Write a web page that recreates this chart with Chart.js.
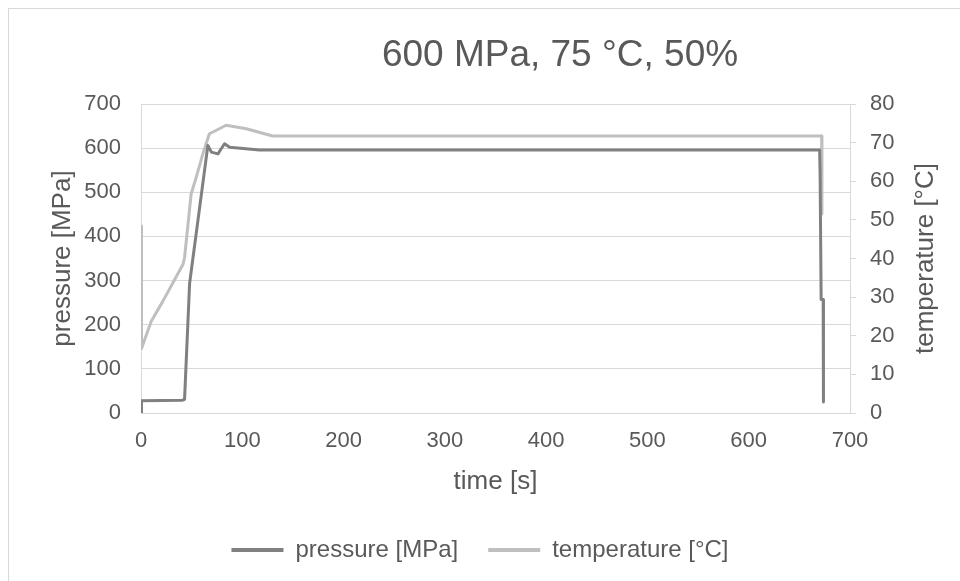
<!DOCTYPE html>
<html>
<head>
<meta charset="utf-8">
<script src="https://cdn.jsdelivr.net/npm/chart.js@4.4.1/dist/chart.umd.min.js"></script>
<style>
    body { margin: 0; background: #fff; }
    #wrap { position: relative; width: 960px; height: 581px; overflow: hidden; }
    #frame { position: absolute; left: 8px; top: 8px; width: 1000px; height: 1000px; border: 1px solid #d9d9d9; }
    #myChart { position: absolute; left: 0; top: 0; }
</style>
</head>
<body>
<div id="wrap">
    <div id="frame"></div>
    <canvas id="myChart" width="960" height="581"></canvas>
</div>
<script>
    const chartTitle = "600 MPa, 75 °C, 50%";
    const rightTitle = "temperature [°C]";

    // pressure log
    const pressureTime = [0, 0.5, 41, 43, 48, 66, 69.5, 76, 79, 82.5, 87.5, 117, 670, 670.5, 671.5, 673.5, 673.8];
    const pressureValues = [0, 28, 29, 31, 294, 606, 591, 587, 598, 610, 602, 596, 596, 540, 257, 257, 25];

    // temperature log
    const tempTime = [0, 0.5, 10, 21.5, 41.5, 43, 49.5, 54.5, 61, 67.5, 74.5, 84, 104, 130, 672, 672.3];
    const tempValues = [48.4, 16.7, 23.7, 28.9, 38.5, 40.2, 56.7, 61, 67, 72.3, 73.2, 74.5, 73.6, 71.7, 71.7, 51.5];

    const xTicks = [0, 100, 200, 300, 400, 500, 600, 700];

    const font = '"Liberation Sans", Arial, sans-serif';
    const textColor = "#595959";

    function toPoints(xs, ys) {
        let pts = [];
        for (let i = 0; i < xs.length; i++) {
            pts.push({ x: xs[i], y: ys[i] });
        }
        return pts;
    }

    // chart title + right axis title (reads bottom to top, like the left one)
    const titlePlugin = {
        id: 'chartTitle',
        afterDraw(chart) {
            let ctx = chart.ctx;
            let area = chart.chartArea;
            ctx.save();
            ctx.font = '37px ' + font;
            ctx.fillStyle = textColor;
            ctx.textAlign = 'center';
            ctx.textBaseline = 'alphabetic';
            ctx.fillText(chartTitle, 560, 66);

            ctx.font = '26px ' + font;
            ctx.textBaseline = 'middle';
            ctx.translate(926, (area.top + area.bottom) / 2);
            ctx.rotate(-Math.PI / 2);
            ctx.fillText(rightTitle, 0, 0);
            ctx.restore();
        }
    };

    new Chart("myChart", {
        type: "line",
        data: {
            datasets: [{
                label: "pressure [MPa]",
                data: toPoints(pressureTime, pressureValues),
                borderColor: "#808080",
                backgroundColor: "#808080",
                borderWidth: 3,
                yAxisID: "y"
            }, {
                label: "temperature [°C]",
                data: toPoints(tempTime, tempValues),
                borderColor: "#bfbfbf",
                backgroundColor: "#bfbfbf",
                borderWidth: 3,
                yAxisID: "y2"
            }]
        },
        options: {
            responsive: false,
            animation: false,
            devicePixelRatio: 1,
            layout: { padding: { top: 104, left: 0, right: 0, bottom: 9 } },
            elements: {
                point: { radius: 0 },
                line: { tension: 0, borderJoinStyle: 'round' }
            },
            plugins: {
                legend: {
                    position: 'bottom',
                    labels: {
                        font: { family: font, size: 24 },
                        color: textColor,
                        boxWidth: 52,
                        boxHeight: 4,
                        padding: 30,
                        generateLabels: function (chart) {
                            return chart.data.datasets.map(function (ds, i) {
                                return {
                                    text: ds.label,
                                    fillStyle: ds.borderColor,
                                    strokeStyle: ds.borderColor,
                                    lineWidth: 0,
                                    hidden: false,
                                    datasetIndex: i,
                                    fontColor: textColor
                                };
                            });
                        }
                    }
                },
                tooltip: { enabled: false }
            },
            scales: {
                x: {
                    type: 'linear',
                    min: 0,
                    max: 700,
                    afterBuildTicks: function (axis) {
                        axis.ticks = xTicks.map(v => ({ value: v }));
                    },
                    afterFit: function (axis) { axis.height = 95; },
                    grid: { display: false },
                    border: { display: true, color: '#d9d9d9', width: 1 },
                    ticks: { font: { family: font, size: 22 }, color: textColor, padding: 7, maxRotation: 0 },
                    title: {
                        display: true,
                        text: 'time [s]',
                        font: { family: font, size: 26 },
                        color: textColor,
                        padding: { top: 0, bottom: 11 }
                    }
                },
                y: {
                    position: 'left',
                    min: 0,
                    max: 700,
                    afterFit: function (axis) { axis.width = 141; },
                    grid: { color: '#d9d9d9', drawTicks: false },
                    border: { display: true, color: '#d9d9d9' },
                    ticks: { stepSize: 100, font: { family: font, size: 22 }, color: textColor, padding: 20 },
                    title: {
                        display: true,
                        text: 'pressure [MPa]',
                        font: { family: font, size: 26 },
                        color: textColor,
                        padding: { top: 47, bottom: 0 }
                    }
                },
                y2: {
                    position: 'right',
                    min: 0,
                    max: 80,
                    afterFit: function (axis) { axis.width = 110; },
                    grid: { drawOnChartArea: false, drawTicks: true, tickLength: 6, color: '#d9d9d9' },
                    border: { display: true, color: '#d9d9d9' },
                    ticks: { stepSize: 10, font: { family: font, size: 22 }, color: textColor, padding: 14 },
                    title: { display: false }
                }
            }
        },
        plugins: [titlePlugin]
    });
</script>
</body>
</html>
